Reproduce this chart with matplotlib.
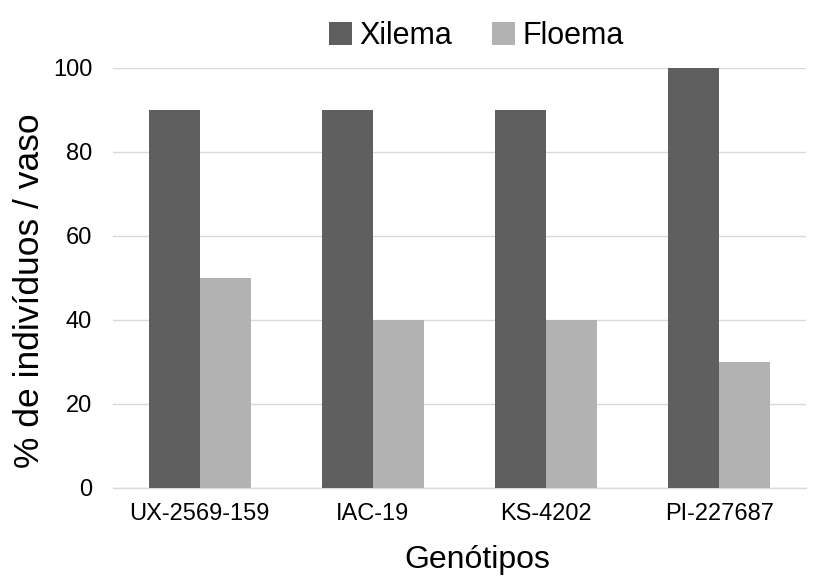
import matplotlib
matplotlib.use("Agg")
import matplotlib.pyplot as plt
import numpy as np

categories = ["UX-2569-159", "IAC-19", "KS-4202", "PI-227687"]
xilema = [90, 90, 90, 100]
floema = [50, 40, 40, 30]
series_names = ["Xilema", "Floema"]

plt.rcParams['font.family'] = ['Liberation Sans', 'DejaVu Sans']

fig = plt.figure(figsize=(8.19, 5.83), dpi=100)
ax = fig.add_axes([113/819, 1-488/583, (806-113)/819, (488-68)/583])

x = np.arange(len(categories))
w = 0.295
ax.bar(x - w/2, xilema, width=w, color="#5f5f5f", label=series_names[0], zorder=3)
ax.bar(x + w/2, floema, width=w, color="#b2b2b2", label=series_names[1], zorder=3)

ax.set_xlim(-0.5, len(categories) - 0.5)
ax.set_ylim(0, 100)
ax.set_yticks(range(0, 101, 20))
ax.set_xticks(x)
ax.set_xticklabels(categories, fontsize=17)
ax.tick_params(axis='y', labelsize=17, length=0, pad=15)
ax.tick_params(axis='x', length=0, pad=11)
ax.grid(axis='y', color="#d9d9d9", linewidth=1, zorder=0)
for s in ["top", "right", "left"]:
    ax.spines[s].set_visible(False)
ax.spines["bottom"].set_color("#d9d9d9")
ax.spines["bottom"].set_linewidth(1)

ax.set_ylabel("% de indivíduos / vaso", fontsize=25.5)
ax.yaxis.set_label_coords(-0.096, 0.47)
ax.set_xlabel("Genótipos", fontsize=23)
ax.xaxis.set_label_coords(0.525, -0.135)

ax.legend(loc="lower center", bbox_to_anchor=(0.524, 1.0), ncol=2, frameon=False,
          fontsize=22, handlelength=0.75, handleheight=0.75, handletextpad=0.25,
          columnspacing=1.3, borderaxespad=0.15)

fig.savefig("out.png", dpi=100)
